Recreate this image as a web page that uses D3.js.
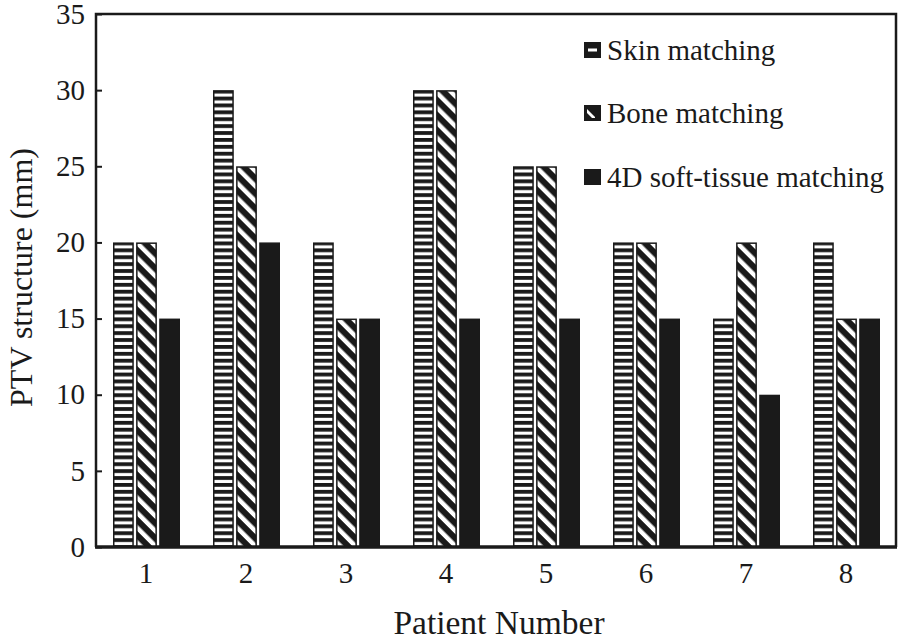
<!DOCTYPE html>
<html>
<head>
<meta charset="utf-8">
<script src="https://cdn.jsdelivr.net/npm/d3@7"></script>
<style>
  body { margin: 0; background: #fff; }
  svg text { font-family: "Liberation Serif", "Times New Roman", serif; }
</style>
</head>
<body>
<svg id="chart"></svg>
<script>
const width = 904;
const height = 640;
const margin = { top: 14, right: 8, bottom: 93, left: 96 };

const patients = ["1", "2", "3", "4", "5", "6", "7", "8"];
const seriesNames = ["Skin matching", "Bone matching", "4D soft-tissue matching"];
const skinValues = [20, 30, 20, 30, 25, 20, 15, 20];
const boneValues = [20, 25, 15, 30, 25, 20, 20, 15];
const softValues = [15, 20, 15, 15, 15, 15, 10, 15];
const yTicks = [0, 5, 10, 15, 20, 25, 30, 35];

const ink = "#1a1a1a";
const serif = "Liberation Serif";

const svg = d3.select("#chart").attr("width", width).attr("height", height);

// patterns
const defs = svg.append("defs");
const hp = defs.append("pattern")
  .attr("id", "hstripe")
  .attr("patternUnits", "userSpaceOnUse")
  .attr("width", 8).attr("height", 6.9);
hp.append("rect").attr("width", 8).attr("height", 6.9).attr("fill", "#fff");
hp.append("rect").attr("width", 8).attr("height", 3.8).attr("fill", ink);

const dp = defs.append("pattern")
  .attr("id", "dstripe")
  .attr("patternUnits", "userSpaceOnUse")
  .attr("width", 10.6).attr("height", 10.6)
  .attr("patternTransform", "rotate(-45)");
dp.append("rect").attr("width", 10.6).attr("height", 10.6).attr("fill", ink);
dp.append("rect").attr("width", 4.4).attr("height", 10.6).attr("fill", "#fff");

const fills = ["url(#hstripe)", "url(#dstripe)", ink];

const innerW = width - margin.left - margin.right;
const innerH = height - margin.top - margin.bottom;

const x = d3.scaleBand().domain(patients).range([margin.left, margin.left + innerW]);
const xSub = d3.scaleBand().domain(seriesNames).range([-33, 34]).paddingInner(0.1);
const y = d3.scaleLinear().domain([0, 35]).range([margin.top + innerH, margin.top]);

const rows = patients.map((p, i) => ({
  patient: p,
  values: [skinValues[i], boneValues[i], softValues[i]]
}));

// bars
const groups = svg.append("g").selectAll("g")
  .data(rows).enter().append("g")
  .attr("transform", d => `translate(${x(d.patient) + x.bandwidth() / 2},0)`);

groups.selectAll("rect")
  .data(d => d.values.map((v, k) => ({ v, k })))
  .enter().append("rect")
  .attr("x", d => xSub(seriesNames[d.k]) + 0.75)
  .attr("y", d => y(d.v) + 0.75)
  .attr("width", xSub.bandwidth() - 1.5)
  .attr("height", d => y(0) - y(d.v) - 0.75)
  .attr("fill", d => fills[d.k])
  .attr("stroke", ink)
  .attr("stroke-width", 1.5);

// frame
svg.append("path")
  .attr("d", `M${margin.left},${y(0)}V${margin.top}H${margin.left + innerW}V${y(0)}`)
  .attr("fill", "none").attr("stroke", ink).attr("stroke-width", 2.5);
svg.append("line")
  .attr("x1", margin.left - 1).attr("x2", margin.left + innerW + 1)
  .attr("y1", y(0)).attr("y2", y(0))
  .attr("stroke", ink).attr("stroke-width", 3.5);

// y axis
const yAxis = svg.append("g")
  .attr("transform", `translate(${margin.left},0)`)
  .call(d3.axisRight(y).tickValues(yTicks).tickSize(6).tickFormat(d3.format("d")));
yAxis.attr("font-family", serif);
yAxis.select(".domain").remove();
yAxis.selectAll(".tick line").attr("stroke", ink).attr("stroke-width", 2);
yAxis.selectAll(".tick text")
  .attr("x", -11).attr("text-anchor", "end")
  .attr("font-size", 29).attr("font-family", serif).attr("fill", ink);

// x axis
const xAxis = svg.append("g")
  .attr("transform", `translate(0,${y(0)})`)
  .call(d3.axisBottom(x).tickSize(0));
xAxis.attr("font-family", serif);
xAxis.select(".domain").remove();
xAxis.selectAll(".tick text")
  .attr("y", 15)
  .attr("font-size", 29).attr("font-family", serif).attr("fill", ink);

// axis titles
svg.append("text")
  .attr("x", margin.left + innerW / 2 + 3).attr("y", 634)
  .attr("text-anchor", "middle")
  .attr("font-size", 33.5).attr("font-family", serif).attr("fill", ink)
  .text("Patient Number");

svg.append("text")
  .attr("transform", `translate(32,${margin.top + innerH / 2 - 3}) rotate(-90)`)
  .attr("text-anchor", "middle")
  .attr("font-size", 32).attr("font-family", serif).attr("fill", ink)
  .text("PTV structure (mm)");

// legend
const legendY = [50, 113, 177];
const legend = svg.append("g").selectAll("g")
  .data(seriesNames).enter().append("g")
  .attr("transform", (d, i) => `translate(584,${legendY[i]})`);

legend.append("rect")
  .attr("x", 0).attr("y", -8).attr("width", 17).attr("height", 16)
  .attr("fill", ink);
legend.filter((d, i) => i === 0).append("rect")
  .attr("x", 4).attr("y", -1.5).attr("width", 9).attr("height", 3).attr("fill", "#fff");
legend.filter((d, i) => i === 1).append("path")
  .attr("d", "M3,-4 L11,4 L11,5 L8,5 L3,0 Z").attr("fill", "#fff");

legend.append("text")
  .attr("x", 23).attr("y", 0).attr("dy", "0.35em")
  .attr("font-size", 29).attr("font-family", serif).attr("fill", ink)
  .text(d => d);
</script>
</body>
</html>
